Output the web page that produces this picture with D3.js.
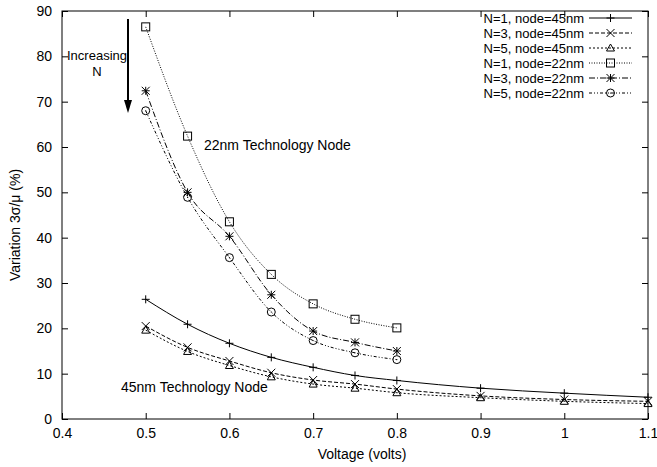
<!DOCTYPE html>
<html><head><meta charset="utf-8">
<script src="https://cdn.jsdelivr.net/npm/d3@7"></script>
<style>body{margin:0;background:#fff}svg{display:block}text{font-family:"Liberation Sans",Arial,sans-serif;fill:#000}</style>
</head><body>
<script>
const volts45 = [0.5,0.55,0.6,0.65,0.7,0.75,0.8,0.9,1.0,1.1];
const volts22 = [0.5,0.55,0.6,0.65,0.7,0.75,0.8];
const n1_45 = [26.4,20.9,16.7,13.6,11.4,9.6,8.5,6.8,5.7,4.8];
const n3_45 = [20.5,15.8,12.8,10.2,8.6,7.7,6.6,5.1,4.3,3.9];
const n5_45 = [19.6,14.9,11.8,9.3,7.7,6.8,5.8,4.7,3.9,3.4];
const n1_22 = [86.5,62.4,43.5,31.9,25.4,22.0,20.1];
const n3_22 = [72.4,50.0,40.3,27.4,19.4,16.9,15.0];
const n5_22 = [68.0,48.9,35.6,23.6,17.3,14.6,13.1];
const seriesNames = ["N=1, node=45nm","N=3, node=45nm","N=5, node=45nm","N=1, node=22nm","N=3, node=22nm","N=5, node=22nm"];
const xTicks = [0.4,0.5,0.6,0.7,0.8,0.9,1,1.1];
const yTicks = [0,10,20,30,40,50,60,70,80,90];

const W=657,H=467;
const L=62,R=648,T=11,B=419;
const FS=14;
const svg=d3.select("body").append("svg").attr("width",W).attr("height",H);
const x=d3.scaleLinear().domain([0.4,1.1]).range([L,R]);
const y=d3.scaleLinear().domain([0,90]).range([B,T]);

const series=[
 {name:seriesNames[0],xs:volts45,ys:n1_45,dash:null,mark:"plus"},
 {name:seriesNames[1],xs:volts45,ys:n3_45,dash:"4,2",mark:"cross"},
 {name:seriesNames[2],xs:volts45,ys:n5_45,dash:"2,2",mark:"tri"},
 {name:seriesNames[3],xs:volts22,ys:n1_22,dash:"1,1.5",mark:"square"},
 {name:seriesNames[4],xs:volts22,ys:n3_22,dash:"6,2,1,2",mark:"star"},
 {name:seriesNames[5],xs:volts22,ys:n5_22,dash:"3,2,1,2,1,2",mark:"circle"}
];

// frame
svg.append("rect").attr("x",L).attr("y",T).attr("width",R-L).attr("height",B-T)
 .attr("fill","none").attr("stroke","#000").attr("stroke-width",1);

// axes with inward ticks
const fmtX=d=>d===1?"1":d3.format(".1f")(d);
const gx=svg.append("g").attr("transform",`translate(0,${B})`)
 .call(d3.axisBottom(x).tickValues(xTicks).tickSizeInner(-6).tickSizeOuter(0).tickFormat(fmtX));
const gxt=svg.append("g").attr("transform",`translate(0,${T})`)
 .call(d3.axisTop(x).tickValues(xTicks).tickSizeInner(-6).tickSizeOuter(0).tickFormat(""));
const gy=svg.append("g").attr("transform",`translate(${L},0)`)
 .call(d3.axisLeft(y).tickValues(yTicks).tickSizeInner(-6).tickSizeOuter(0).tickPadding(10));
const gyr=svg.append("g").attr("transform",`translate(${R},0)`)
 .call(d3.axisRight(y).tickValues(yTicks).tickSizeInner(-6).tickSizeOuter(0).tickFormat(""));
[gx,gxt,gy,gyr].forEach(g=>{g.select(".domain").remove();g.selectAll("text").attr("font-size",FS).style("font-family","Liberation Sans, Arial, sans-serif");});
gx.selectAll("text").attr("y",14).attr("dy","0.35em");

// axis labels
svg.append("text").attr("x",362).attr("y",454).attr("dy","0.35em").attr("text-anchor","middle").attr("font-size",FS).text("Voltage (volts)");
svg.append("text").attr("transform",`translate(15,225) rotate(-90)`).attr("dy","0.35em").attr("text-anchor","middle").attr("font-size",FS).text("Variation 3σ/μ (%)");

function drawMark(g,type,cx,cy){
 const s=4;
 const st={stroke:"#000","stroke-width":1,fill:"none"};
 const add=(tag,attrs)=>{const e=g.append(tag);Object.entries({...st,...attrs}).forEach(([k,v])=>e.attr(k,v));return e;};
 if(type==="plus"){add("path",{d:`M${cx-s},${cy}H${cx+s}M${cx},${cy-s}V${cy+s}`});}
 else if(type==="cross"){add("path",{d:`M${cx-s},${cy-s}L${cx+s},${cy+s}M${cx-s},${cy+s}L${cx+s},${cy-s}`});}
 else if(type==="tri"){add("path",{d:`M${cx},${cy-s}L${cx+s},${cy+s*0.75}L${cx-s},${cy+s*0.75}Z`});}
 else if(type==="square"){add("rect",{x:cx-s,y:cy-s,width:2*s,height:2*s});}
 else if(type==="star"){add("path",{d:`M${cx-s},${cy}H${cx+s}M${cx},${cy-s}V${cy+s}M${cx-s},${cy-s}L${cx+s},${cy+s}M${cx-s},${cy+s}L${cx+s},${cy-s}`});}
 else if(type==="circle"){add("circle",{cx:cx,cy:cy,r:s});add("circle",{cx:cx,cy:cy,r:0.6,fill:"#000","stroke-width":0});}
}

const line=d3.line().curve(d3.curveMonotoneX);
series.forEach(s=>{
 const pts=s.xs.map((v,i)=>[x(v),y(s.ys[i])]);
 svg.append("path").attr("d",line(pts)).attr("fill","none").attr("stroke","#000")
  .attr("stroke-width",1).attr("stroke-dasharray",s.dash);
 const g=svg.append("g");
 pts.forEach(p=>drawMark(g,s.mark,p[0],p[1]));
});

// legend
const lg=svg.append("g");
series.forEach((s,i)=>{
 const yy=18+i*15;
 lg.append("text").attr("x",584).attr("y",yy).attr("dy","0.35em").attr("text-anchor","end").attr("font-size",13).text(s.name);
 lg.append("line").attr("x1",589).attr("x2",632).attr("y1",yy).attr("y2",yy).attr("stroke","#000").attr("stroke-width",1).attr("stroke-dasharray",s.dash);
 drawMark(lg,s.mark,610.5,yy);
});

// annotations
svg.append("text").attr("x",97).attr("y",55).attr("dy","0.35em").attr("text-anchor","middle").attr("font-size",13).text("Increasing");
svg.append("text").attr("x",97).attr("y",71).attr("dy","0.35em").attr("text-anchor","middle").attr("font-size",13).text("N");
svg.append("line").attr("x1",128).attr("x2",128).attr("y1",19).attr("y2",104).attr("stroke","#000").attr("stroke-width",2);
svg.append("path").attr("d","M124,100L132,100L128,113Z").attr("fill","#000");
svg.append("text").attr("x",204).attr("y",145).attr("dy","0.35em").attr("font-size",FS).text("22nm Technology Node");
svg.append("text").attr("x",121).attr("y",387).attr("dy","0.35em").attr("font-size",FS).text("45nm Technology Node");
</script>
</body></html>
